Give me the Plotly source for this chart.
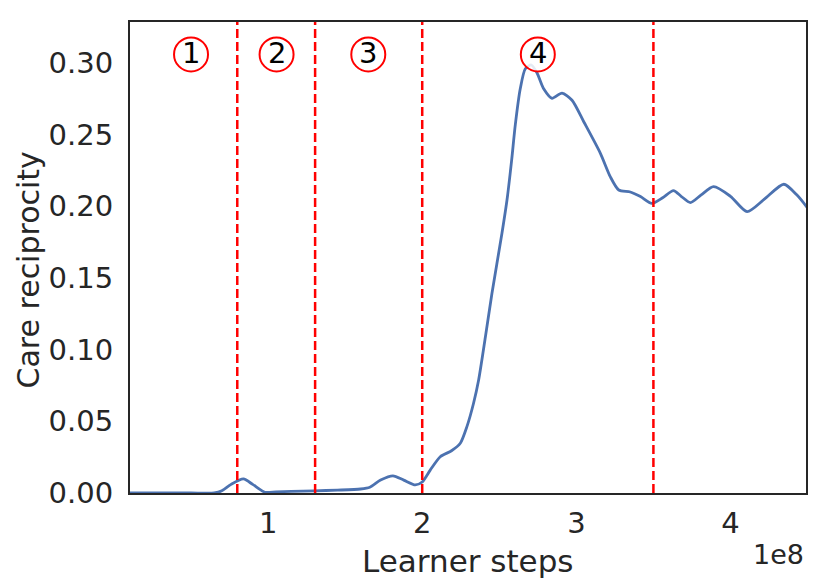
import plotly.graph_objects as go

# Data (learner steps in units of 1e8, care reciprocity)
steps_e8 = [0.10, 0.30, 0.50, 0.65, 0.70, 0.76, 0.84, 0.90, 0.98, 1.05, 1.15, 1.30, 1.45,
            1.60, 1.66, 1.73, 1.81, 1.88, 1.955, 2.00, 2.052, 2.117, 2.19, 2.247, 2.29, 2.333,
            2.366, 2.41, 2.452, 2.517, 2.55, 2.58, 2.604, 2.636, 2.669, 2.708, 2.745, 2.788,
            2.842, 2.907, 2.972, 3.048, 3.156, 3.22, 3.275, 3.35, 3.416, 3.49, 3.56, 3.63, 3.68,
            3.74, 3.81, 3.89, 4.00, 4.108, 4.22, 4.346, 4.43, 4.497]
care = [0.0, 0.0, 0.0, 0.0, 0.0015, 0.006, 0.0098, 0.006, 0.0005, 0.0008, 0.0012, 0.0015, 0.002,
        0.0028, 0.004, 0.009, 0.012, 0.009, 0.0056, 0.0077, 0.016, 0.0253, 0.0295, 0.0347, 0.0463,
        0.0626, 0.0788, 0.109, 0.139, 0.181, 0.2044, 0.232, 0.257, 0.282, 0.296, 0.2986, 0.293,
        0.282, 0.2754, 0.279, 0.274, 0.259, 0.237, 0.2207, 0.2114, 0.210, 0.2068, 0.202, 0.206,
        0.211, 0.207, 0.2026, 0.208, 0.2137, 0.207, 0.1963, 0.205, 0.2154, 0.208, 0.1993]

phase_bounds_e8 = [0.80, 1.305, 2.00, 3.50]
phase_labels = ["1", "2", "3", "4"]
phase_label_x_e8 = [0.50, 1.055, 1.65, 2.75]
phase_label_y = 0.306

x_ticks = [1, 2, 3, 4]
y_ticks = [0.00, 0.05, 0.10, 0.15, 0.20, 0.25, 0.30]

SCALE = 1e8
xs = [v * SCALE for v in steps_e8]
TXT = "#262626"

fig = go.Figure()
fig.add_trace(go.Scatter(
    x=xs, y=care, mode="lines",
    line=dict(color="#4c72b0", width=2.8, shape="spline", smoothing=0.7),
    showlegend=False, hoverinfo="skip", cliponaxis=True))

for b in phase_bounds_e8:
    fig.add_shape(type="line", xref="x", yref="paper", x0=b * SCALE, x1=b * SCALE, y0=0, y1=1,
                  line=dict(color="red", width=2.5, dash="9px,4px"))

for lab, lx in zip(phase_labels, phase_label_x_e8):
    fig.add_shape(type="circle", xref="x", yref="y", xsizemode="pixel", ysizemode="pixel",
                  xanchor=lx * SCALE, yanchor=phase_label_y, x0=-17, x1=17, y0=-17, y1=17,
                  line=dict(color="red", width=2), fillcolor="rgba(255,255,255,0.85)", layer="above")
    fig.add_annotation(x=lx * SCALE, y=phase_label_y, xref="x", yref="y", text=lab, showarrow=False,
                       font=dict(family="DejaVu Sans", size=29, color="black"), yshift=1)

fig.add_annotation(xref="paper", yref="paper", x=1.0, y=0, yshift=-61, xanchor="right", yanchor="middle",
                   text="1e8", showarrow=False, font=dict(family="DejaVu Sans", size=27, color=TXT))
fig.add_annotation(xref="paper", yref="paper", x=0.5, y=0, yshift=-68, xanchor="center", yanchor="middle",
                   text="Learner steps", showarrow=False, font=dict(family="DejaVu Sans", size=31, color=TXT))
fig.add_annotation(xref="paper", yref="paper", x=0, y=0.5, xshift=-102, yshift=-13, xanchor="center",
                   yanchor="middle", textangle=-90,
                   text="Care reciprocity", showarrow=False, font=dict(family="DejaVu Sans", size=30, color=TXT))

fig.update_layout(
    width=822, height=580,
    margin=dict(l=122, r=24, t=14, b=95, autoexpand=False),
    plot_bgcolor="white", paper_bgcolor="white",
    font=dict(family="DejaVu Sans", color=TXT),
)
fig.update_xaxes(
    range=[0.104 * SCALE, 4.49 * SCALE], automargin=False,
    tickvals=[t * SCALE for t in x_ticks], ticktext=[str(t) for t in x_ticks],
    tickfont=dict(size=29), showgrid=False, zeroline=False,
    showline=True, linecolor=TXT, linewidth=2, mirror=True, ticks="",
    ticklabelstandoff=3,
)
fig.update_yaxes(
    range=[0, 0.3286], automargin=False,
    tickvals=y_ticks, ticktext=[f"{t:.2f}" for t in y_ticks],
    tickfont=dict(size=29), showgrid=False, zeroline=False,
    showline=True, linecolor=TXT, linewidth=2, mirror=True, ticks="",
    ticklabelstandoff=9,
)

fig.write_html("out.html")
